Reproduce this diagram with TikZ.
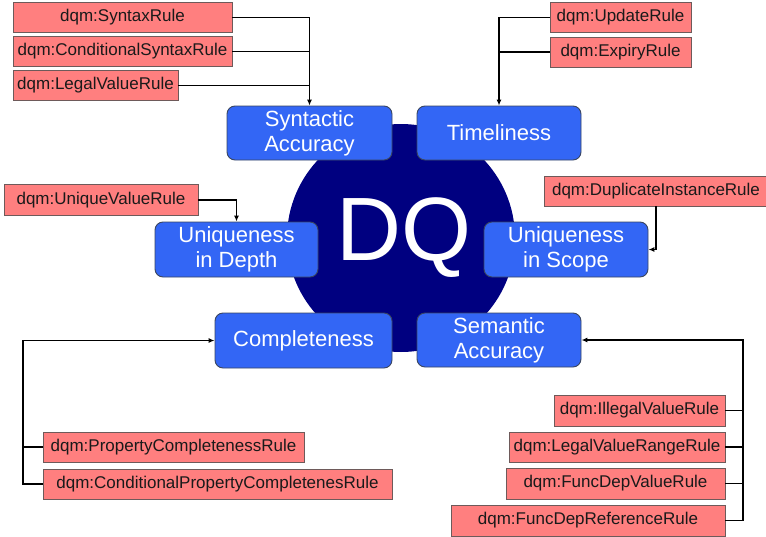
\documentclass[tikz,border=0pt]{standalone}
\usepackage{fontspec}
\setmainfont{Liberation Sans}
\usetikzlibrary{arrows.meta}
\definecolor{rulefill}{HTML}{FF7F7F}
\definecolor{ruleedge}{HTML}{6E5A5A}
\definecolor{dimfill}{HTML}{3366F5}
\definecolor{dimedge}{HTML}{3A4660}
\definecolor{dqnavy}{HTML}{000080}
\definecolor{ruletext}{HTML}{1A1A1A}
\tikzset{
  rulebox/.style={draw=ruleedge, line width=0.9pt, fill=rulefill, text=ruletext,
    inner sep=0pt, minimum height=30, font=\fontsize{17}{20}\selectfont},
  dimbox/.style={draw=dimedge, line width=0.9pt, fill=dimfill, text=white,
    rounded corners=8, inner sep=0pt, minimum height=54, align=center,
    font=\fontsize{22}{25}\selectfont},
  link/.style={draw=black, line width=1.2pt},
  feed/.style={link, -{Latex[length=6pt,width=5pt]}},
}
\begin{document}
\begin{tikzpicture}[x=1pt,y=-1pt]
\useasboundingbox (0,0) rectangle (766,536);
\clip (0,0) rectangle (766,536);

% central hub
\node[circle, fill=dqnavy, minimum size=228, inner sep=0pt] (hub) at (401,238) {};
\node[text=white, font=\fontsize{90}{90}\selectfont, inner sep=0pt] (dq) at (404,238) {DQ};

% quality dimensions
\node[dimbox, minimum width=165] (sa)   at (309.5,133)   {Syntactic\\Accuracy};
\node[dimbox, minimum width=164] (tim)  at (499,133)     {Timeliness};
\node[dimbox, minimum width=163, minimum height=55] (uid) at (236.5,249.5) {Uniqueness\\in Depth};
\node[dimbox, minimum width=164, minimum height=55] (uis) at (566,249.5)   {Uniqueness\\in Scope};
\node[dimbox, minimum width=177, minimum height=55] (comp) at (303.5,340.5) {Completeness};
\node[dimbox, minimum width=164] (sem)  at (499,340)     {Semantic\\Accuracy};

% rule classes
\node[rulebox, minimum width=219] (syn)   at (122.5,17.5) {dqm:SyntaxRule};
\node[rulebox, minimum width=219] (csyn)  at (122.5,51.5) {dqm:ConditionalSyntaxRule};
\node[rulebox, minimum width=165] (lval)  at (95.5,85.5)  {dqm:LegalValueRule};
\node[rulebox, minimum width=141] (upd)   at (620.5,17.5) {dqm:UpdateRule};
\node[rulebox, minimum width=141] (exp)   at (620.5,52)   {dqm:ExpiryRule};
\node[rulebox, minimum width=194, minimum height=31] (uniq) at (101,200) {dqm:UniqueValueRule};
\node[rulebox, minimum width=224] (dup)   at (656,191)    {dqm:DuplicateInstanceRule};
\node[rulebox, minimum width=261] (pcomp) at (173.5,447)  {dqm:PropertyCompletenessRule};
\node[rulebox, minimum width=349] (cpcomp) at (217.5,484) {dqm:ConditionalPropertyCompletenesRule};
\node[rulebox, minimum width=171, minimum height=31] (ill) at (639.5,410.5) {dqm:IllegalValueRule};
\node[rulebox, minimum width=216] (lvr)   at (617,447)    {dqm:LegalValueRangeRule};
\node[rulebox, minimum width=219, minimum height=31] (fdv) at (615.5,483.5) {dqm:FuncDepValueRule};
\node[rulebox, minimum width=274, minimum height=31] (fdr) at (588,520.5) {dqm:FuncDepReferenceRule};

% bus lines on the left and right
\coordinate (cbus) at (23,0);
\coordinate (sbus) at (743,0);

% connectors
\draw[feed] (syn.east) -| (sa.north);
\draw[link] (csyn.east) -- (csyn.east -| sa.north);
\draw[link] (lval.east) -- (lval.east -| sa.north);

\draw[feed] (upd.west) -| (tim.north);
\draw[link] (exp.west) -- (exp.west -| tim.north);

\draw[feed] (uniq.east) -| (uid.north);
\draw[feed] (dup.south) |- (uis.east);

\draw[feed] (cpcomp.west) -- (cpcomp.west -| cbus) |- (comp.west);
\draw[link] (pcomp.west) -- (pcomp.west -| cbus);

\draw[feed] (fdr.east) -- (fdr.east -| sbus) |- (sem.east);
\draw[link] (fdv.east) -- (fdv.east -| sbus);
\draw[link] (lvr.east) -- (lvr.east -| sbus);
\draw[link] (ill.east) -- (ill.east -| sbus);
\end{tikzpicture}
\end{document}
